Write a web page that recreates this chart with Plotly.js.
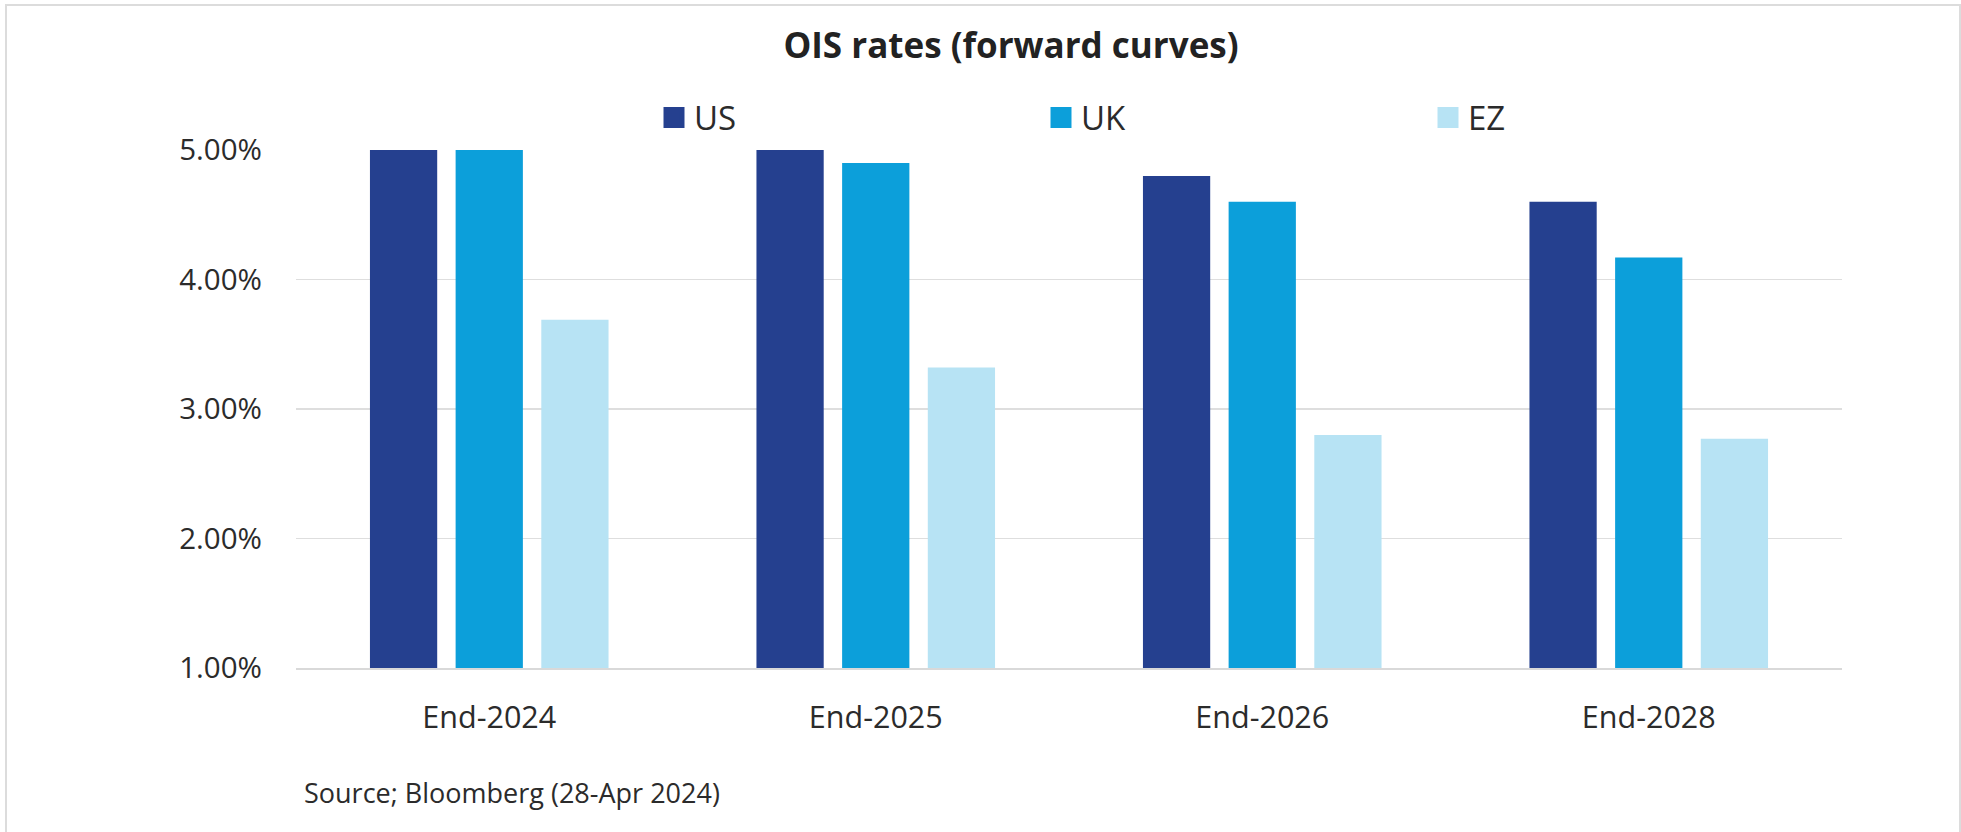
<!DOCTYPE html>
<html><head><meta charset="utf-8">
<script src="https://cdn.plot.ly/plotly-3.0.1.min.js"></script>
<style>
html,body{margin:0;padding:0;background:#fff;}
#wrap{position:relative;width:1961px;height:832px;overflow:hidden;}
#chart{width:1961px;height:832px;}
#frame{position:absolute;left:5px;top:4px;width:1956px;height:840px;box-sizing:border-box;border:2px solid #dcdcdc;pointer-events:none;}
</style></head><body>
<div id="wrap"><div id="chart"></div><div id="frame"></div></div>
<script>
const categories = ['End-2024', 'End-2025', 'End-2026', 'End-2028'];
const seriesNames = ['US', 'UK', 'EZ'];
const usValues = [5.00, 5.00, 4.80, 4.60];
const ukValues = [5.00, 4.90, 4.60, 4.17];
const ezValues = [3.69, 3.32, 2.80, 2.77];
const yTickValues = [1, 2, 3, 4, 5];
const yTickLabels = ['1.00%', '2.00%', '3.00%', '4.00%', '5.00%'];
const chartTitle = 'OIS rates (forward curves)';
const sourceNote = 'Source; Bloomberg (28-Apr 2024)';
const seriesColors = ['#25408F', '#0C9FDA', '#B7E3F4'];

const W = 1961, H = 832;
const M = {l: 296, r: 119, t: 150, b: 164};
const PW = W - M.l - M.r, PH = H - M.t - M.b;
const px2x = p => (p - M.l) / PW;
const px2y = p => (H - M.b - p) / PH;

const FONT = '"Open Sans", "Noto Sans", sans-serif';
const TXT = '#2b2b2b';

const allValues = [usValues, ukValues, ezValues];
const traces = [];
allValues.forEach((vals, i) => {
  traces.push({
    type: 'bar', x: categories, y: vals, name: seriesNames[i],
    marker: {color: seriesColors[i], line: {width: 0}},
    showlegend: false, hoverinfo: 'x+y+name'
  });
});
// legend entries
allValues.forEach((vals, i) => {
  traces.push({
    type: 'scatter', mode: 'markers', x: [null], y: [null], name: seriesNames[i],
    marker: {symbol: 'square', size: 16, color: seriesColors[i], line: {width: 5, color: seriesColors[i]}},
    showlegend: true, hoverinfo: 'skip'
  });
});

const layout = {
  width: W, height: H,
  margin: M,
  paper_bgcolor: '#ffffff', plot_bgcolor: '#ffffff',
  font: {family: FONT, color: TXT},
  title: {
    text: '<b>' + chartTitle + '</b>',
    font: {family: FONT, size: 35, color: '#222222'},
    xref: 'container', yref: 'container',
    x: 1011 / W, xanchor: 'center',
    y: 1 - 46 / H, yanchor: 'middle'
  },
  barmode: 'group',
  bargap: 0.335,
  bargroupgap: 0.215,
  xaxis: {
    type: 'category',
    showgrid: false, zeroline: false,
    showline: true, linecolor: '#d9d9d9', linewidth: 1.5,
    ticks: '', ticklabelstandoff: 22,
    tickfont: {family: FONT, size: 30.5, color: TXT},
    fixedrange: true
  },
  yaxis: {
    range: [1, 5],
    tickvals: yTickValues, ticktext: yTickLabels,
    showgrid: true, gridcolor: '#dedede', gridwidth: 1.2,
    zeroline: false, showline: false,
    ticks: '', ticklabelstandoff: 33,
    tickfont: {family: FONT, size: 29.5, color: TXT},
    fixedrange: true
  },
  legend: {
    orientation: 'h',
    x: px2x(654), xanchor: 'left',
    y: px2y(117.5), yanchor: 'middle',
    font: {family: FONT, size: 33, color: TXT},
    entrywidth: 342, entrywidthmode: 'pixels',
    bgcolor: 'rgba(0,0,0,0)', borderwidth: 0,
    itemclick: false, itemdoubleclick: false
  },
  annotations: [{
    text: sourceNote, showarrow: false,
    xref: 'paper', yref: 'paper',
    x: px2x(302), xanchor: 'left',
    y: px2y(792), yanchor: 'middle',
    font: {family: FONT, size: 27, color: TXT}
  }]
};

Plotly.newPlot('chart', traces, layout, {displayModeBar: false, staticPlot: true});
</script>
</body></html>
